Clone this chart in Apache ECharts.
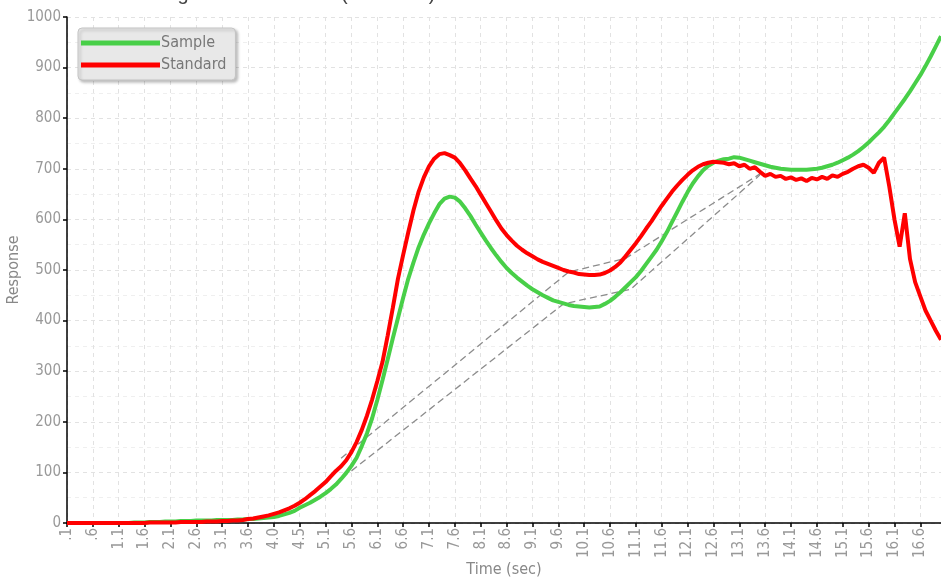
<!DOCTYPE html>
<html>
<head>
<meta charset="utf-8">
<script src="https://cdn.jsdelivr.net/npm/echarts@6/dist/echarts.min.js"></script>
<style>
html,body{margin:0;padding:0;background:#fff;}
#chart{width:941px;height:585px;}
</style>
</head>
<body>
<div id="chart"></div>
<script>
// Time categories (sec), as recorded by the instrument
const timeLabels = [
".1",".2",".3",".4",".5",".6",".7",".8",".9","1.0",
"1.1","1.2","1.3","1.4","1.5","1.6","1.7","1.8","1.9","2.0",
"2.1","2.2","2.3","2.4","2.5","2.6","2.7","2.8","2.9","3.0",
"3.1","3.2","3.3","3.4","3.5","3.6","3.7","3.8","3.85","3.9",
"4.0","4.1","4.2","4.3","4.4","4.5","4.6","4.7","4.8","5.0",
"5.1","5.2","5.3","5.4","5.5","5.6","5.7","5.8","5.9","6.0",
"6.1","6.2","6.3","6.4","6.5","6.6","6.7","6.8","6.9","7.0",
"7.1","7.2","7.3","7.4","7.5","7.6","7.7","7.8","7.9","8.0",
"8.1","8.2","8.3","8.4","8.5","8.6","8.7","8.8","8.9","9.0",
"9.1","9.2","9.3","9.4","9.5","9.6","9.7","9.8","9.9","10.0",
"10.1","10.2","10.3","10.4","10.5","10.6","10.7","10.8","10.9","11.0",
"11.1","11.2","11.3","11.4","11.5","11.6","11.7","11.8","11.9","12.0",
"12.1","12.2","12.3","12.4","12.5","12.6","12.7","12.8","12.9","13.0",
"13.1","13.2","13.3","13.4","13.5","13.6","13.7","13.8","13.9","14.0",
"14.1","14.2","14.3","14.4","14.5","14.6","14.7","14.8","14.9","15.0",
"15.1","15.2","15.3","15.4","15.5","15.6","15.7","15.8","15.9","16.0",
"16.1","16.2","16.3","16.4","16.5","16.6","16.7","16.8","16.9","17.0"
];

const sampleValues = [
0,0,0,0,0,0,0,0,0,0,
0,0,0,1,1,1,2,2,2,3,
3,3,4,4,4,5,5,5,5,6,
6,6,6,7,7,8,8,9,10,11,
12,14,17,20,24,30,35,40,46,52,
59,67,76,87,99,113,129,152,177,207,
243,282,323,365,405,445,483,515,545,570,
592,612,630,641,645,643,635,622,607,590,
574,558,543,529,516,504,494,485,477,469,
462,456,450,445,440,437,434,431,429,428,
427,426,427,428,433,439,447,456,466,476,
486,498,512,526,540,557,575,595,615,635,
654,671,685,697,706,712,716,719,720,723,
722,719,716,713,710,707,704,702,700,699,
698,698,698,698,699,700,702,705,708,712,
717,722,728,735,743,752,762,772,783,796,
810,824,838,853,869,885,903,922,942,962
];

const standardValues = [
0,0,0,0,0,0,0,0,0,0,
0,0,0,0,0,0,1,1,1,1,
1,1,2,2,2,2,2,3,3,3,
4,4,5,5,6,8,9,11,13,15,
18,21,25,29,34,40,47,55,63,72,
81,92,103,112,124,140,160,184,212,244,
280,318,370,425,483,530,575,618,655,683,
705,720,729,731,727,722,711,697,681,666,
649,632,615,598,582,569,558,548,540,533,
527,521,516,512,508,504,500,497,495,492,
491,490,490,491,494,499,506,515,527,540,
553,567,582,596,612,627,641,655,667,678,
688,697,704,709,712,714,713,712,709,711,
705,708,700,703,694,686,690,684,686,680,
683,678,681,676,682,679,684,680,687,684,
690,694,700,705,708,702,692,712,722,665,
600,546,612,522,476,448,420,400,380,362
];

// Construction (tangent) lines: [time category, response]
const standardTangentTimes = ["5.4","9.8","10.9","13.5"];
const standardTangentValues = [128,496,523,690];
const sampleTangentTimes = ["5.6","9.7","11.0","13.5"];
const sampleTangentValues = [103,433,462,688];

const seriesNames = ["Sample","Standard"];
const chartTitle = "Resin Curing Rate Evaluation (Standard)";

const FONT = "'Liberation Sans Narrow','DejaVu Sans Condensed','Liberation Sans',sans-serif";

const chart = echarts.init(document.getElementById('chart'), null, {renderer:'canvas'});
chart.setOption({
  animation:false,
  backgroundColor:'#ffffff',
  title:{
    text:chartTitle, left:73, top:-16, padding:0,
    textStyle:{fontFamily:"'Liberation Sans',sans-serif", fontSize:20, fontWeight:'normal', color:'#444'}
  },
  legend:{
    data:seriesNames, orient:'vertical', left:78, top:28,
    padding:[7,9,7,3], itemGap:6, itemWidth:79, itemHeight:5, icon:'rect',
    backgroundColor:'#e8e8e8', borderColor:'#c4c4c4', borderWidth:1, borderRadius:4,
    shadowBlur:3, shadowOffsetX:2, shadowOffsetY:2, shadowColor:'rgba(0,0,0,0.25)',
    textStyle:{fontFamily:FONT, fontSize:16, color:'#777', padding:[0,0,0,-4]}
  },
  grid:{left:67, top:17, right:0, bottom:62, containLabel:false, outerBoundsMode:'none'},
  xAxis:{
    type:'category', data:timeLabels, boundaryGap:false,
    name:'Time (sec)', nameLocation:'middle', nameGap:39, nameMoveOverlap:false,
    nameTextStyle:{fontFamily:FONT, fontSize:16, color:'#888'},
    axisLine:{lineStyle:{color:'#000', width:1.5}},
    axisTick:{interval:4, length:4, lineStyle:{color:'#000', width:1.5}},
    axisLabel:{interval:4, rotate:90, margin:5, fontFamily:FONT, fontSize:15, color:'#999'},
    splitLine:{show:true, interval:4, lineStyle:{color:'#e2e2e2', type:[4,4]}}
  },
  yAxis:{
    type:'value', min:0, max:1000, interval:100,
    name:'Response', nameLocation:'middle', nameGap:45, nameMoveOverlap:false,
    nameTextStyle:{fontFamily:FONT, fontSize:16, color:'#888'},
    axisLine:{show:true, lineStyle:{color:'#000', width:1.5}},
    axisTick:{show:true, length:4, lineStyle:{color:'#000', width:1.5}},
    axisLabel:{margin:6, fontFamily:FONT, fontSize:15, color:'#999', formatter:(v)=>String(v)},
    splitLine:{show:true, lineStyle:{color:'#e2e2e2', type:[4,4]}},
    minorTick:{show:false, splitNumber:2},
    minorSplitLine:{show:true, lineStyle:{color:'#efefef', type:[4,4]}}
  },
  series:[
    {
      name:'tangentStandard', type:'line', z:1, silent:true, symbol:'none',
      data:standardTangentTimes.map((t,i)=>[t, standardTangentValues[i]]),
      lineStyle:{color:'#8c8c8c', width:1.3, type:[7,4]}
    },
    {
      name:'tangentSample', type:'line', z:1, silent:true, symbol:'none',
      data:sampleTangentTimes.map((t,i)=>[t, sampleTangentValues[i]]),
      lineStyle:{color:'#8c8c8c', width:1.3, type:[7,4]}
    },
    {
      name:'Sample', type:'line', z:3, symbol:'none', data:sampleValues,
      itemStyle:{color:'#48cf48'}, lineStyle:{color:'#48cf48', width:4}
    },
    {
      name:'Standard', type:'line', z:4, symbol:'none', data:standardValues,
      itemStyle:{color:'#ff0000'}, lineStyle:{color:'#ff0000', width:4}
    }
  ]
});
</script>
</body>
</html>
